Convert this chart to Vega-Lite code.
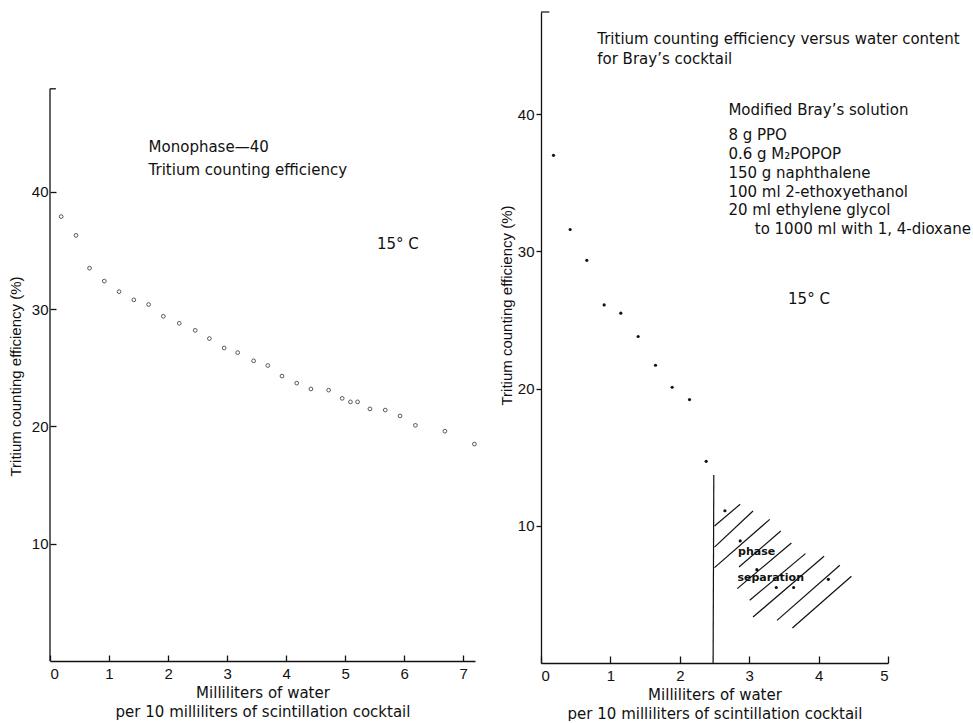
{
  "$schema": "https://vega.github.io/schema/vega-lite/v6.json",
  "background": "white",
  "padding": {"left": 8, "top": 11, "right": 5, "bottom": 0},
  "spacing": 20,
  "datasets": {
    "leftPoints": [
      {"water": 0.19, "eff": 37.9}, {"water": 0.44, "eff": 36.3}, {"water": 0.67, "eff": 33.5},
      {"water": 0.92, "eff": 32.4}, {"water": 1.17, "eff": 31.5}, {"water": 1.42, "eff": 30.8},
      {"water": 1.67, "eff": 30.4}, {"water": 1.92, "eff": 29.4}, {"water": 2.19, "eff": 28.8},
      {"water": 2.46, "eff": 28.2}, {"water": 2.70, "eff": 27.5}, {"water": 2.95, "eff": 26.7},
      {"water": 3.18, "eff": 26.3}, {"water": 3.45, "eff": 25.6}, {"water": 3.69, "eff": 25.2},
      {"water": 3.93, "eff": 24.3}, {"water": 4.18, "eff": 23.7}, {"water": 4.42, "eff": 23.2},
      {"water": 4.72, "eff": 23.1}, {"water": 4.95, "eff": 22.4}, {"water": 5.09, "eff": 22.1},
      {"water": 5.21, "eff": 22.1}, {"water": 5.42, "eff": 21.5}, {"water": 5.68, "eff": 21.4},
      {"water": 5.93, "eff": 20.9}, {"water": 6.19, "eff": 20.1}, {"water": 6.69, "eff": 19.6},
      {"water": 7.19, "eff": 18.5}
    ],
    "rightPoints": [
      {"water": 0.18, "eff": 37.0}, {"water": 0.42, "eff": 31.6}, {"water": 0.66, "eff": 29.35},
      {"water": 0.91, "eff": 26.1}, {"water": 1.15, "eff": 25.5}, {"water": 1.40, "eff": 23.8},
      {"water": 1.65, "eff": 21.7}, {"water": 1.89, "eff": 20.1}, {"water": 2.14, "eff": 19.2},
      {"water": 2.38, "eff": 14.7}, {"water": 2.65, "eff": 11.1}, {"water": 2.87, "eff": 8.9},
      {"water": 3.11, "eff": 6.8}, {"water": 3.39, "eff": 5.5}, {"water": 3.64, "eff": 5.5},
      {"water": 4.14, "eff": 6.1}
    ],
    "leftLines": [
      {"x": 0, "x2": 0, "y": 0, "y2": 48.8},
      {"x": 0, "x2": 0.1, "y": 48.8, "y2": 48.8}
    ],
    "rightLines": [
      {"x": 0, "x2": 0.12, "y": 47.45, "y2": 47.45},
      {"x": 2.49, "x2": 2.48, "y": 13.7, "y2": 0},
      {"x": 2.50, "y": 9.99, "x2": 2.87, "y2": 11.57},
      {"x": 2.50, "y": 8.45, "x2": 3.055, "y2": 11.08},
      {"x": 2.50, "y": 6.95, "x2": 3.296, "y2": 10.47},
      {"x": 2.853, "y": 7.00, "x2": 3.455, "y2": 9.62},
      {"x": 2.828, "y": 5.42, "x2": 3.608, "y2": 8.75},
      {"x": 3.007, "y": 4.57, "x2": 3.81, "y2": 7.97},
      {"x": 3.055, "y": 3.35, "x2": 4.079, "y2": 7.78},
      {"x": 3.401, "y": 3.11, "x2": 4.306, "y2": 7.12},
      {"x": 3.622, "y": 2.55, "x2": 4.473, "y2": 6.32}
    ],
    "leftText": [
      {"x": 1.67, "y": 43.8, "label": "Monophase—40"},
      {"x": 1.67, "y": 41.9, "label": "Tritium counting efficiency"},
      {"x": 5.54, "y": 35.6, "label": "15° C"}
    ],
    "rightText": [
      {"x": 0.81, "y": 45.5, "label": "Tritium counting efficiency  versus water content"},
      {"x": 0.81, "y": 44.0, "label": "for Bray’s cocktail"},
      {"x": 2.70, "y": 40.3, "label": "Modified Bray’s solution"},
      {"x": 2.70, "y": 38.5, "label": "8 g PPO"},
      {"x": 2.70, "y": 37.1, "label": "0.6 g M₂POPOP"},
      {"x": 2.70, "y": 35.7, "label": "150 g naphthalene"},
      {"x": 2.70, "y": 34.3, "label": "100 ml 2-ethoxyethanol"},
      {"x": 2.70, "y": 33.0, "label": "20 ml ethylene glycol"},
      {"x": 3.08, "y": 31.6, "label": "to 1000 ml with 1, 4-dioxane"},
      {"x": 3.56, "y": 26.55, "label": "15° C"}
    ],
    "phaseText": [
      {"x": 2.84, "y": 8.1, "label": "phase"},
      {"x": 2.83, "y": 6.2, "label": "separation"}
    ]
  },
  "hconcat": [
    {
      "width": 425,
      "height": 649,
      "layer": [
        {
          "data": {"name": "leftLines"},
          "mark": {"type": "rule", "color": "#111", "strokeWidth": 1.3},
          "encoding": {
            "x": {"field": "x", "type": "quantitative", "scale": {"domain": [0, 7.2]}},
            "x2": {"field": "x2"},
            "y": {"field": "y", "type": "quantitative", "scale": {"domain": [0, 55.35]}},
            "y2": {"field": "y2"}
          }
        },
        {
          "data": {"name": "leftPoints"},
          "mark": {"type": "point", "shape": "circle", "filled": false, "size": 14, "color": "#111", "strokeWidth": 1},
          "encoding": {
            "x": {
              "field": "water", "type": "quantitative",
              "scale": {"domain": [0, 7.2], "nice": false},
              "axis": {
                "values": [0, 1, 2, 3, 4, 5, 6, 7],
                "format": "d",
                "title": ["Milliliters of water", "per 10 milliliters of scintillation cocktail"],
                "tickSize": -6, "labelPadding": 11, "titlePadding": 4
              }
            },
            "y": {
              "field": "eff", "type": "quantitative",
              "scale": {"domain": [0, 55.35], "nice": false},
              "axis": {
                "values": [10, 20, 30, 40],
                "format": "d",
                "domain": false,
                "title": "Tritium counting efficiency (%)",
                "tickSize": -6, "labelPadding": 8, "titlePadding": 8,
                "titleY": 364
              }
            }
          }
        },
        {
          "data": {"name": "leftText"},
          "mark": {"type": "text", "align": "left", "baseline": "middle", "font": "DejaVu Sans", "fontSize": 15, "color": "#111"},
          "encoding": {
            "x": {"field": "x", "type": "quantitative"},
            "y": {"field": "y", "type": "quantitative"},
            "text": {"field": "label"}
          }
        }
      ]
    },
    {
      "width": 347,
      "height": 651,
      "layer": [
        {
          "data": {"name": "rightLines"},
          "mark": {"type": "rule", "color": "#111", "strokeWidth": 1.2},
          "encoding": {
            "x": {"field": "x", "type": "quantitative", "scale": {"domain": [0, 5]}},
            "x2": {"field": "x2"},
            "y": {"field": "y", "type": "quantitative", "scale": {"domain": [0, 47.45]}},
            "y2": {"field": "y2"}
          }
        },
        {
          "data": {"name": "rightPoints"},
          "mark": {"type": "point", "shape": "circle", "filled": true, "size": 10, "color": "#111", "opacity": 1},
          "encoding": {
            "x": {
              "field": "water", "type": "quantitative",
              "scale": {"domain": [0, 5], "nice": false},
              "axis": {
                "values": [0, 1, 2, 3, 4, 5],
                "format": "d",
                "title": ["Milliliters of water", "per 10 milliliters of scintillation cocktail"],
                "tickSize": -7, "labelPadding": 12, "titlePadding": 4
              }
            },
            "y": {
              "field": "eff", "type": "quantitative",
              "scale": {"domain": [0, 47.45], "nice": false},
              "axis": {
                "values": [10, 20, 30, 40],
                "format": "d",
                "title": "Tritium counting efficiency (%)",
                "tickSize": 5, "labelPadding": 2, "titlePadding": 3,
                "titleY": 293
              }
            }
          }
        },
        {
          "data": {"name": "rightText"},
          "mark": {"type": "text", "align": "left", "baseline": "middle", "font": "DejaVu Sans", "fontSize": 15, "color": "#111"},
          "encoding": {
            "x": {"field": "x", "type": "quantitative"},
            "y": {"field": "y", "type": "quantitative"},
            "text": {"field": "label"}
          }
        },
        {
          "data": {"name": "phaseText"},
          "mark": {"type": "text", "align": "left", "baseline": "middle", "font": "DejaVu Sans", "fontSize": 11, "fontWeight": "bold", "color": "#111"},
          "encoding": {
            "x": {"field": "x", "type": "quantitative"},
            "y": {"field": "y", "type": "quantitative"},
            "text": {"field": "label"}
          }
        }
      ]
    }
  ],
  "config": {
    "view": {"stroke": null},
    "font": "Liberation Sans",
    "axis": {
      "grid": false,
      "domainColor": "#111",
      "tickColor": "#111",
      "labelColor": "#111",
      "titleColor": "#111",
      "labelFont": "Liberation Sans",
      "titleFont": "Liberation Sans",
      "labelFontSize": 15,
      "titleFontSize": 15,
      "titleFontWeight": "normal",
      "domainWidth": 1.3,
      "tickWidth": 1.3
    },
    "axisX": {
      "titleFont": "DejaVu Sans",
      "titleFontSize": 15,
      "titleLineHeight": 19
    }
  }
}
